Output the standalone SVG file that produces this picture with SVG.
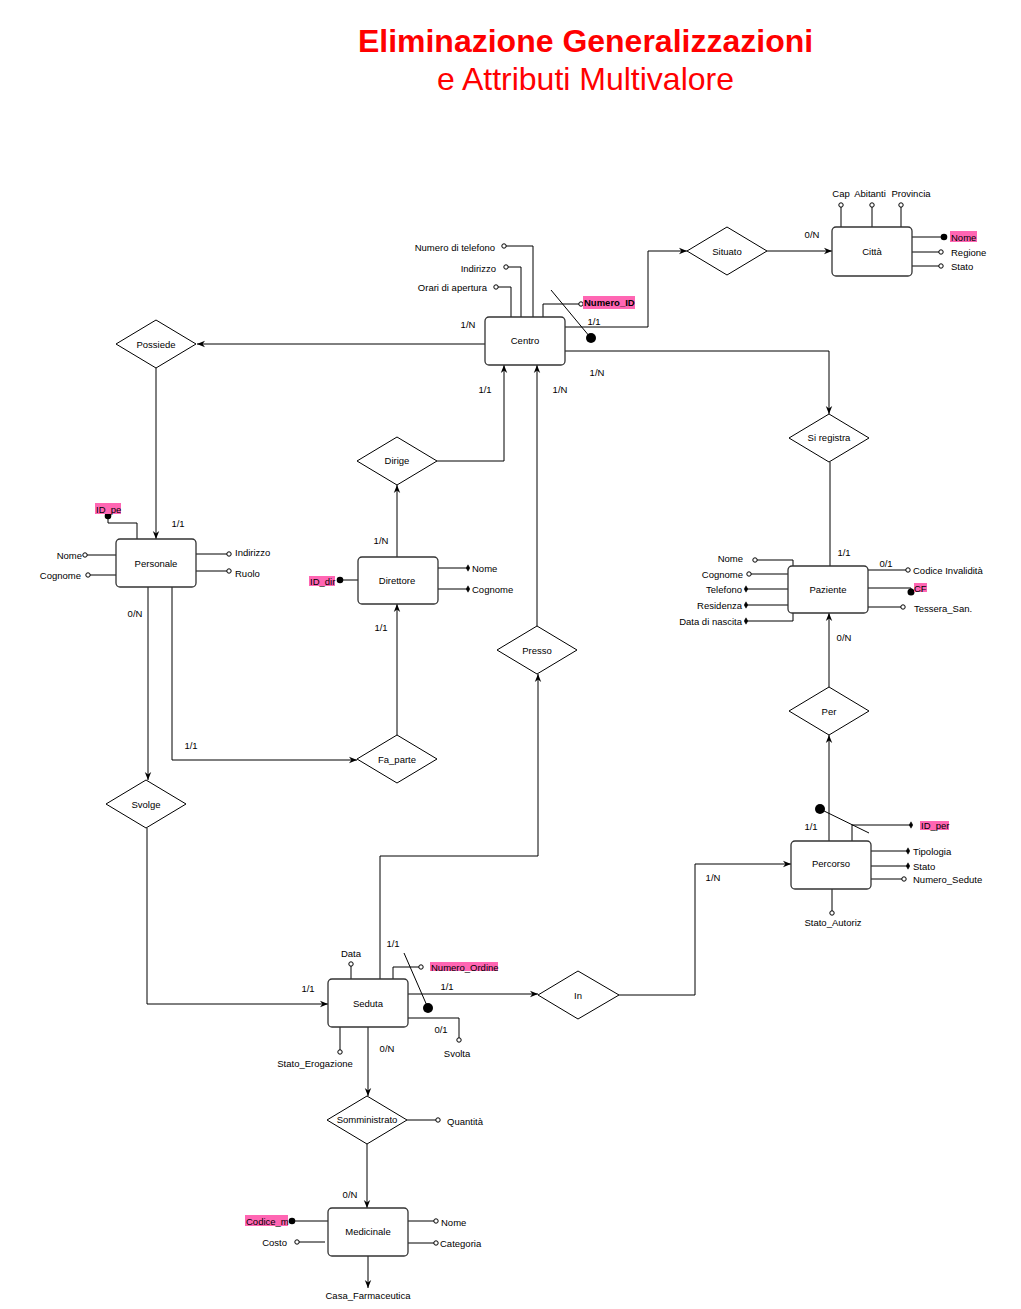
<svg xmlns="http://www.w3.org/2000/svg" width="1021" height="1309" viewBox="0 0 1021 1309">
  <style>
    .t { font-family: "Liberation Sans", Arial, sans-serif; font-size: 9.5px; fill: #000; dominant-baseline: central; }
    .m { text-anchor: middle; }
    .e { text-anchor: end; }
    .title { font-family: "Liberation Sans", Arial, sans-serif; font-size: 32px; fill: #ff0000; text-anchor: middle; }
    .ent { fill: #fff; stroke: #333; stroke-width: 1.3; }
    .rel { fill: #fff; stroke: #000; stroke-width: 1; }
    .c { fill: none; stroke: #000; stroke-width: 1; }
    .a { fill: none; stroke: #000; stroke-width: 1; }
    .hl { fill: #ff66b3; }
    .arr { marker-end: url(#arrow); }
    .oc { marker-end: url(#openDot); }
    .fc { marker-end: url(#fullDot); }
    .fd { marker-end: url(#thinDiamond); }
  </style>
  <defs>
    <marker id="arrow" viewBox="0 0 10 10" refX="10" refY="5" markerWidth="8" markerHeight="8" markerUnits="userSpaceOnUse" orient="auto">
      <path d="M0,1 L10,5 L0,9 L3,5 z" fill="#000"/>
    </marker>
    <marker id="openDot" viewBox="-4 -4 8 8" refX="0" refY="0" markerWidth="8" markerHeight="8" markerUnits="userSpaceOnUse" orient="auto">
      <circle r="2.2" fill="#fff" stroke="#000" stroke-width="1"/>
    </marker>
    <marker id="fullDot" viewBox="-4 -4 8 8" refX="0" refY="0" markerWidth="8" markerHeight="8" markerUnits="userSpaceOnUse" orient="auto">
      <circle r="3.3" fill="#000"/>
    </marker>
    <marker id="thinDiamond" viewBox="-4 -4 8 8" refX="0" refY="0" markerWidth="8" markerHeight="8" markerUnits="userSpaceOnUse" orient="auto">
      <path d="M0,-3.2 L1.8,0 L0,3.2 L-1.8,0 z" fill="#000" stroke="#000" stroke-width="0.5"/>
    </marker>
  </defs>

  <rect width="1021" height="1309" fill="#fff"/>

  <!-- Title -->
  <text class="title" x="585.5" y="52" font-weight="bold">Eliminazione Generalizzazioni</text>
  <text class="title" x="585.5" y="90">e Attributi Multivalore</text>

  <!-- Relationship connectors and cardinalities -->
  <g id="connectors">
    <path class="c arr" d="M565,327 H648 V251 H687"/>
    <path class="c arr" d="M767,251 H832"/>
    <path class="c arr" d="M485,344 H197"/>
    <path class="c arr" d="M156,368 V539"/>
    <path class="c arr" d="M565,351 H829 V414"/>
    <path class="c" d="M830,462 V566"/>
    <path class="c arr" d="M437,461 H504 V365"/>
    <path class="c arr" d="M537,626 V365"/>
    <path class="c arr" d="M397,557 V485"/>
    <path class="c arr" d="M397,735 V604"/>
    <path class="c arr" d="M172,587 V760 H357"/>
    <path class="c arr" d="M148,587 V780"/>
    <path class="c arr" d="M147,828 V1004 H328"/>
    <path class="c arr" d="M380,979 V856 H538 V674"/>
    <path class="c arr" d="M408,994 H538"/>
    <path class="c arr" d="M619,995 H695 V864 H791"/>
    <path class="c arr" d="M829,841 V735"/>
    <path class="c arr" d="M829,687 V613"/>
    <path class="c arr" d="M368,1027 V1096"/>
    <path class="c arr" d="M367,1144 V1208"/>

    <text class="t m" x="812" y="234">0/N</text>
    <text class="t m" x="594" y="321">1/1</text>
    <text class="t m" x="468" y="324">1/N</text>
    <text class="t m" x="597" y="372">1/N</text>
    <text class="t m" x="485" y="389">1/1</text>
    <text class="t m" x="560" y="389">1/N</text>
    <text class="t m" x="178" y="523">1/1</text>
    <text class="t m" x="381" y="540">1/N</text>
    <text class="t m" x="381" y="627">1/1</text>
    <text class="t m" x="135" y="613">0/N</text>
    <text class="t m" x="191" y="745">1/1</text>
    <text class="t m" x="844" y="552">1/1</text>
    <text class="t m" x="886" y="563">0/1</text>
    <text class="t m" x="844" y="637">0/N</text>
    <text class="t m" x="811" y="826">1/1</text>
    <text class="t m" x="713" y="877">1/N</text>
    <text class="t m" x="308" y="988">1/1</text>
    <text class="t m" x="393" y="943">1/1</text>
    <text class="t m" x="447" y="986">1/1</text>
    <text class="t m" x="441" y="1029">0/1</text>
    <text class="t m" x="387" y="1048">0/N</text>
    <text class="t m" x="350" y="1194">0/N</text>
  </g>

  <!-- Entity: Centro -->
  <g id="centro">
    <path class="a oc" d="M533,317 V246 H504"/>
    <path class="a oc" d="M521,317 V267 H506"/>
    <path class="a oc" d="M511,317 V287 H496"/>
    <path class="a oc" d="M543,317 V304 H581"/>
    <line class="a" x1="551" y1="290" x2="590" y2="337"/>
    <circle cx="591" cy="338" r="5" fill="#000"/>
    <rect class="ent" x="485" y="317" width="80" height="48" rx="4"/>
    <text class="t m" x="525" y="340">Centro</text>
    <text class="t e" x="495" y="247">Numero di telefono</text>
    <text class="t e" x="496" y="268">Indirizzo</text>
    <text class="t e" x="487" y="287">Orari di apertura</text>
    <rect class="hl" x="583" y="296" width="52" height="13"/>
    <text class="t" x="584" y="302.5" font-weight="bold">Numero_ID</text>
  </g>

  <!-- Entity: Città -->
  <g id="citta">
    <path class="a oc" d="M841,227 V205"/>
    <path class="a oc" d="M872,227 V205"/>
    <path class="a oc" d="M901,227 V205"/>
    <path class="a fc" d="M912,237 H944"/>
    <path class="a oc" d="M912,252 H941"/>
    <path class="a oc" d="M912,266 H941"/>
    <rect class="ent" x="832" y="227" width="80" height="49" rx="4"/>
    <text class="t m" x="872" y="251">Città</text>
    <text class="t m" x="841" y="193">Cap</text>
    <text class="t m" x="870" y="193">Abitanti</text>
    <text class="t m" x="911" y="193">Provincia</text>
    <rect class="hl" x="950" y="231" width="27" height="11"/>
    <text class="t" x="951" y="237">Nome</text>
    <text class="t" x="951" y="252">Regione</text>
    <text class="t" x="951" y="266">Stato</text>
  </g>

  <!-- Entity: Personale -->
  <g id="personale">
    <path class="a fc" d="M137,539 V523 H108 V516"/>
    <path class="a oc" d="M116,555 H85"/>
    <path class="a oc" d="M116,575 H88"/>
    <path class="a oc" d="M196,554 H229"/>
    <path class="a oc" d="M196,571 H229"/>
    <rect class="ent" x="116" y="539" width="80" height="48" rx="4"/>
    <text class="t m" x="156" y="563">Personale</text>
    <rect class="hl" x="95" y="503" width="26" height="11"/>
    <text class="t" x="96" y="509">ID_pe</text>
    <text class="t e" x="82" y="555">Nome</text>
    <text class="t e" x="81" y="575">Cognome</text>
    <text class="t" x="235" y="552">Indirizzo</text>
    <text class="t" x="235" y="573">Ruolo</text>
  </g>

  <!-- Entity: Direttore -->
  <g id="direttore">
    <path class="a fc" d="M358,580 H340"/>
    <path class="a fd" d="M438,568 H468"/>
    <path class="a fd" d="M438,589 H468"/>
    <rect class="ent" x="358" y="557" width="80" height="47" rx="4"/>
    <text class="t m" x="397" y="580">Direttore</text>
    <rect class="hl" x="309" y="576" width="26" height="10"/>
    <text class="t" x="310" y="581">ID_dir</text>
    <text class="t" x="472" y="568">Nome</text>
    <text class="t" x="472" y="589">Cognome</text>
  </g>

  <!-- Entity: Paziente -->
  <g id="paziente">
    <path class="a oc" d="M793,566 V560 H755"/>
    <path class="a oc" d="M788,574 H749"/>
    <path class="a fd" d="M788,589 H746"/>
    <path class="a fd" d="M788,605 H746"/>
    <path class="a fd" d="M793,613 V621 H746"/>
    <path class="a oc" d="M868,570 H908"/>
    <path class="a" d="M868,588 H911 V592"/>
    <circle cx="911" cy="592" r="3.5" fill="#000"/>
    <path class="a oc" d="M868,607 H903"/>
    <rect class="ent" x="788" y="566" width="80" height="47" rx="4"/>
    <text class="t m" x="828" y="589">Paziente</text>
    <text class="t e" x="743" y="558">Nome</text>
    <text class="t e" x="743" y="574">Cognome</text>
    <text class="t e" x="742" y="589">Telefono</text>
    <text class="t e" x="742" y="605">Residenza</text>
    <text class="t e" x="742" y="621">Data di nascita</text>
    <text class="t" x="913" y="570">Codice Invalidità</text>
    <rect class="hl" x="914" y="583" width="13" height="9"/>
    <text class="t" x="914" y="588">CF</text>
    <text class="t" x="914" y="608">Tessera_San.</text>
  </g>

  <!-- Entity: Percorso -->
  <g id="percorso">
    <path class="a fd" d="M852,841 V825 H911"/>
    <line class="a" x1="820" y1="809" x2="869" y2="833"/>
    <circle cx="820" cy="809" r="5" fill="#000"/>
    <path class="a fd" d="M871,851 H908"/>
    <path class="a fd" d="M871,866 H908"/>
    <path class="a oc" d="M871,879 H904"/>
    <path class="a oc" d="M832,889 V913"/>
    <rect class="ent" x="791" y="841" width="80" height="48" rx="4"/>
    <text class="t m" x="831" y="863">Percorso</text>
    <rect class="hl" x="920" y="821" width="29" height="9"/>
    <text class="t" x="921" y="825">ID_per</text>
    <text class="t" x="913" y="851">Tipologia</text>
    <text class="t" x="913" y="866">Stato</text>
    <text class="t" x="913" y="879">Numero_Sedute</text>
    <text class="t m" x="833" y="922">Stato_Autoriz</text>
  </g>

  <!-- Entity: Seduta -->
  <g id="seduta">
    <path class="a oc" d="M351,979 V964"/>
    <path class="a oc" d="M393,979 V967 H421"/>
    <line class="a" x1="404" y1="953" x2="428" y2="1008"/>
    <circle cx="428" cy="1008" r="5" fill="#000"/>
    <path class="a oc" d="M408,1018 H459 V1040"/>
    <path class="a oc" d="M340,1027 V1052"/>
    <rect class="ent" x="328" y="979" width="80" height="48" rx="4"/>
    <text class="t m" x="368" y="1003">Seduta</text>
    <text class="t m" x="351" y="953">Data</text>
    <rect class="hl" x="430" y="962" width="68" height="9"/>
    <text class="t" x="431" y="967">Numero_Ordine</text>
    <text class="t m" x="457" y="1053">Svolta</text>
    <text class="t m" x="315" y="1063">Stato_Erogazione</text>
  </g>

  <!-- Entity: Medicinale -->
  <g id="medicinale">
    <path class="a fc" d="M328,1221 H292"/>
    <path class="a oc" d="M325,1242 H297"/>
    <path class="a oc" d="M408,1221 H436"/>
    <path class="a oc" d="M408,1243 H436"/>
    <path class="a arr" d="M368,1256 V1288"/>
    <rect class="ent" x="328" y="1208" width="80" height="48" rx="4"/>
    <text class="t m" x="368" y="1231">Medicinale</text>
    <rect class="hl" x="245" y="1215" width="43" height="11"/>
    <text class="t" x="246" y="1221">Codice_m</text>
    <text class="t e" x="287" y="1242">Costo</text>
    <text class="t" x="441" y="1222">Nome</text>
    <text class="t" x="440" y="1243">Categoria</text>
    <text class="t m" x="368" y="1295">Casa_Farmaceutica</text>
  </g>

  <!-- Relationships -->
  <g id="situato">
    <polygon class="rel" points="687,251 727,227 767,251 727,275"/>
    <text class="t m" x="727" y="251">Situato</text>
  </g>
  <g id="possiede">
    <polygon class="rel" points="116,344 156,320 196,344 156,368"/>
    <text class="t m" x="156" y="344">Possiede</text>
  </g>
  <g id="si-registra">
    <polygon class="rel" points="789,438 829,414 869,438 829,462"/>
    <text class="t m" x="829" y="437">Si registra</text>
  </g>
  <g id="dirige">
    <polygon class="rel" points="357,461 397,437 437,461 397,485"/>
    <text class="t m" x="397" y="460">Dirige</text>
  </g>
  <g id="presso">
    <polygon class="rel" points="497,650 537,626 577,650 537,674"/>
    <text class="t m" x="537" y="650">Presso</text>
  </g>
  <g id="per">
    <polygon class="rel" points="789,711 829,687 869,711 829,735"/>
    <text class="t m" x="829" y="711">Per</text>
  </g>
  <g id="fa-parte">
    <polygon class="rel" points="357,759 397,735 437,759 397,783"/>
    <text class="t m" x="397" y="759">Fa_parte</text>
  </g>
  <g id="svolge">
    <polygon class="rel" points="106,804 146,780 186,804 146,828"/>
    <text class="t m" x="146" y="804">Svolge</text>
  </g>
  <g id="in">
    <polygon class="rel" points="538,995 578,971 619,995 578,1019"/>
    <text class="t m" x="578" y="995">In</text>
  </g>
  <g id="somministrato">
    <polygon class="rel" points="327,1120 367,1096 407,1120 367,1144"/>
    <path class="a oc" d="M407,1120 H438"/>
    <text class="t m" x="367" y="1119">Somministrato</text>
    <text class="t" x="447" y="1121">Quantità</text>
  </g>
</svg>
